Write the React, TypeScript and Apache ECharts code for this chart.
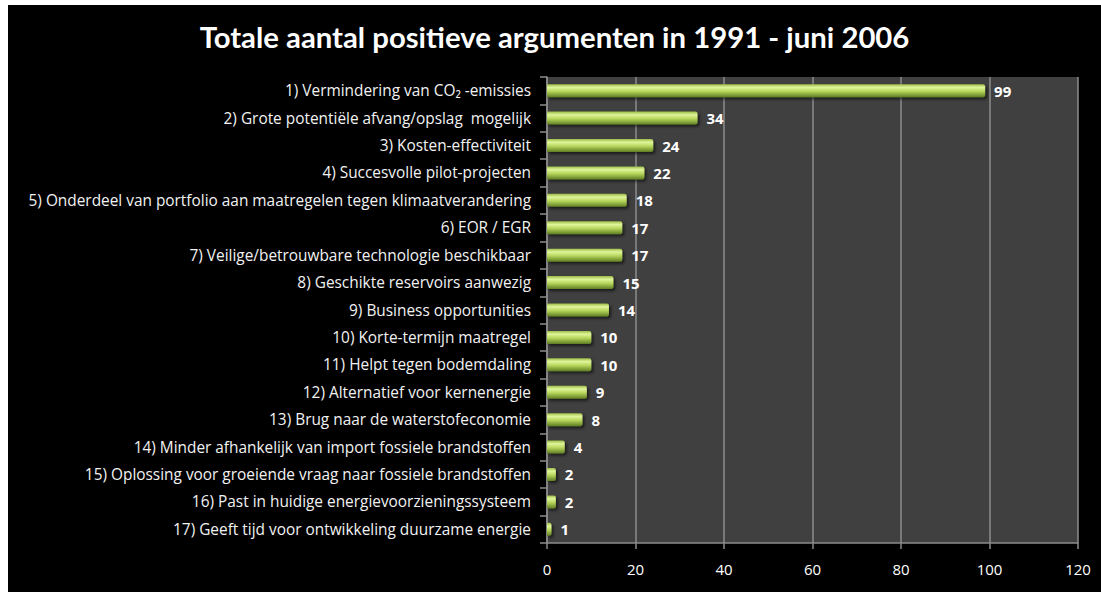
import React, { useEffect, useRef } from "react";
import * as echarts from "echarts";

const categories = [
  "1) Vermindering van CO₂ -emissies",
  "2) Grote potentiële afvang/opslag  mogelijk",
  "3) Kosten-effectiviteit",
  "4) Succesvolle pilot-projecten",
  "5) Onderdeel van portfolio aan maatregelen tegen klimaatverandering",
  "6) EOR / EGR",
  "7) Veilige/betrouwbare technologie beschikbaar",
  "8) Geschikte reservoirs aanwezig",
  "9) Business opportunities",
  "10) Korte-termijn maatregel",
  "11) Helpt tegen bodemdaling",
  "12) Alternatief voor kernenergie",
  "13) Brug naar de waterstofeconomie",
  "14) Minder afhankelijk van import fossiele brandstoffen",
  "15) Oplossing voor groeiende vraag naar fossiele brandstoffen",
  "16) Past in huidige energievoorzieningssysteem",
  "17) Geeft tijd voor ontwikkeling duurzame energie",
];
const values = [99, 34, 24, 22, 18, 17, 17, 15, 14, 10, 10, 9, 8, 4, 2, 2, 1];
const xTicks = [0, 20, 40, 60, 80, 100, 120];
const title = "Totale aantal positieve argumenten in 1991 - juni 2006";

export default function App() {
  const ref = useRef<HTMLDivElement>(null);
  useEffect(() => {
    document.body.style.margin = "0";
    const chart = echarts.init(ref.current!, null, { renderer: "svg" });
    const font = "Lato, 'Open Sans', sans-serif";
    const labelFont = "'Open Sans', Lato, sans-serif";
    chart.setOption({
      animation: false,
      backgroundColor: "#000000",
      title: {
        text: title,
        left: "center",
        top: 12,
        textStyle: { color: "#ffffff", fontSize: 29.3, fontWeight: "bold", fontFamily: font },
      },
      grid: {
        left: 539,
        right: 23,
        top: 72,
        bottom: 49,
        show: true,
        backgroundColor: "#404040",
        borderWidth: 0,
      },
      xAxis: {
        type: "value",
        min: xTicks[0],
        max: xTicks[xTicks.length - 1],
        interval: 20,
        axisLine: { show: true, lineStyle: { color: "#8c8c8c", width: 1.5 } },
        axisTick: { show: true, length: 6, lineStyle: { color: "#8c8c8c", width: 1.5 } },
        splitLine: { show: true, lineStyle: { color: "#8c8c8c", width: 1.5 } },
        axisLabel: { color: "#ffffff", fontSize: 15, fontFamily: labelFont, margin: 18 },
      },
      yAxis: {
        type: "category",
        data: categories,
        inverse: true,
        axisLine: { show: true, lineStyle: { color: "#8c8c8c", width: 1.5 } },
        axisTick: { show: true, length: 7, lineStyle: { color: "#8c8c8c", width: 1.5 } },
        splitLine: { show: false },
        axisLabel: { color: "#f2f2f2", fontSize: 15.4, fontFamily: labelFont, margin: 16 },
      },
      series: [
        {
          type: "bar",
          data: values,
          barWidth: 13,
          itemStyle: {
            color: new echarts.graphic.LinearGradient(0, 0, 0, 1, [
              { offset: 0, color: "#9cbc48" },
              { offset: 0.25, color: "#e0f59a" },
              { offset: 0.55, color: "#b6d65c" },
              { offset: 1, color: "#5f7d22" },
            ]),
            borderRadius: [0, 2, 2, 0],
            shadowColor: "rgba(0,0,0,0.6)",
            shadowBlur: 3,
            shadowOffsetX: 2,
            shadowOffsetY: 2,
          },
          label: {
            show: true,
            position: "right",
            distance: 9,
            color: "#ffffff",
            fontSize: 15,
            fontWeight: "bold",
            fontFamily: labelFont,
          },
        },
      ],
    });
    return () => chart.dispose();
  }, []);
  return (
    <div style={{ width: 1101, height: 592, background: "#ffffff", position: "relative" }}>
      <div
        ref={ref}
        style={{ position: "absolute", left: 8, top: 5, width: 1093, height: 587 }}
      />
    </div>
  );
}
